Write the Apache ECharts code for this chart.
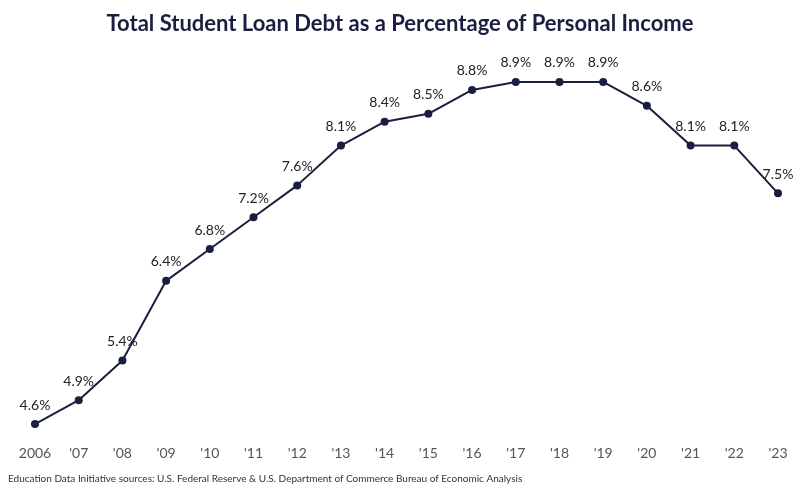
<!DOCTYPE html>
<html>
<head>
<meta charset="utf-8">
<script src="https://cdn.jsdelivr.net/npm/echarts@6/dist/echarts.min.js"></script>
<style>html,body{margin:0;padding:0;background:#fff}#chart{width:800px;height:490px}</style>
</head>
<body>
<div id="chart"></div>
<script>
const years = ['2006', "'07", "'08", "'09", "'10", "'11", "'12", "'13", "'14", "'15", "'16", "'17", "'18", "'19", "'20", "'21", "'22", "'23"]
const debtShare = [4.6, 4.9, 5.4, 6.4, 6.8, 7.2, 7.6, 8.1, 8.4, 8.5, 8.8, 8.9, 8.9, 8.9, 8.6, 8.1, 8.1, 7.5]

const navy = '#1b1f3f'
var myChart = echarts.init(document.getElementById('chart'))
option = {
    title: {
        text: 'Total Student Loan Debt as a Percentage of Personal Income',
        left: 'center',
        top: 8,
        textStyle: { fontFamily: 'Lato', fontWeight: 'bold', fontSize: 22, color: navy }
    },
    graphic: [{
        type: 'text',
        left: 8,
        top: 474,
        style: {
            text: 'Education Data Initiative sources: U.S. Federal Reserve & U.S. Department of Commerce Bureau of Economic Analysis',
            fontFamily: 'Lato', fontSize: 10, fill: '#333'
        }
    }],
    grid: { left: 35, right: 22, top: 74, bottom: 58 },
    xAxis: {
        type: 'category',
        data: years,
        boundaryGap: false,
        axisLine: { show: false },
        axisTick: { show: false },
        axisLabel: { fontFamily: 'Lato', fontSize: 14, color: '#555', margin: 14 }
    },
    yAxis: {
        type: 'value',
        min: 4.5,
        max: 9,
        show: false,
        splitLine: { show: false }
    },
    series: [{
        type: 'line',
        data: debtShare,
        symbol: 'circle',
        symbolSize: 8,
        lineStyle: { color: navy, width: 2 },
        itemStyle: { color: navy },
        label: {
            show: true,
            position: 'top',
            distance: 8,
            formatter: p => p.value.toFixed(1) + '%',
            fontFamily: 'Lato', fontSize: 14, color: '#222'
        }
    }]
}
myChart.setOption(option)
</script>
</body>
</html>
